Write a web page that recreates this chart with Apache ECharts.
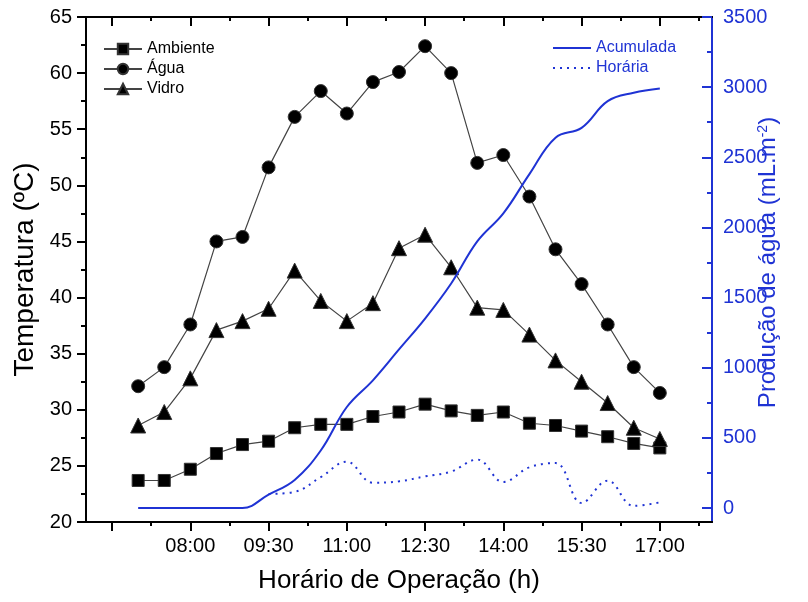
<!DOCTYPE html>
<html>
<head>
<meta charset="utf-8">
<script src="https://cdn.jsdelivr.net/npm/echarts@6/dist/echarts.min.js"></script>
<style>html,body{margin:0;padding:0;background:#fff}#c{width:808px;height:602px}</style>
</head>
<body>
<div id="c"></div>
<script>
// x axis categories (15-min steps across the axis range)
const axisCats = ['06:00','06:15','06:30','06:45','07:00','07:15','07:30','07:45','08:00','08:15','08:30','08:45',
  '09:00','09:15','09:30','09:45','10:00','10:15','10:30','10:45','11:00','11:15','11:30','11:45',
  '12:00','12:15','12:30','12:45','13:00','13:15','13:30','13:45','14:00','14:15','14:30','14:45',
  '15:00','15:15','15:30','15:45','16:00','16:15','16:30','16:45','17:00','17:15','17:30','17:45','18:00'];
const majorTicks = ['06:30','08:00','09:30','11:00','12:30','14:00','15:30','17:00'];
const minorTicks = ['07:15','08:45','10:15','11:45','13:15','14:45','16:15','17:45'];
const tickLabels = ['08:00','09:30','11:00','12:30','14:00','15:30','17:00'];

// measurement times
const times = ['07:00','07:30','08:00','08:30','09:00','09:30','10:00','10:30','11:00','11:30','12:00',
  '12:30','13:00','13:30','14:00','14:30','15:00','15:30','16:00','16:30','17:00'];
const ambiente = [23.7,23.7,24.7,26.1,26.9,27.2,28.4,28.7,28.7,29.4,29.8,30.5,29.9,29.5,29.8,28.8,28.6,28.1,27.6,27.0,26.6];
const agua     = [32.1,33.8,37.6,45.0,45.4,51.6,56.1,58.4,56.4,59.2,60.1,62.4,60.0,52.0,52.7,49.0,44.3,41.2,37.6,33.8,31.5];
const vidro    = [28.6,29.8,32.8,37.1,37.9,39.0,42.4,39.7,37.9,39.5,44.4,45.6,42.7,39.1,38.9,36.7,34.4,32.5,30.6,28.4,27.4];
const acumulada = [0,0,0,0,0,95,200,410,720,910,1130,1350,1600,1900,2100,2380,2640,2710,2900,2960,2990];
const horaria   = ['-','-','-','-','-',100,115,220,330,180,190,225,260,345,185,290,320,35,195,15,40];

const FONT = "'Liberation Sans', Arial, sans-serif";
const BLUE = '#1f33d4';
const pairs = arr => times.map((t, i) => [t, arr[i]]);

const chart = echarts.init(document.getElementById('c'), null, {renderer: 'canvas'});
const tickAxis = (pos, list, len, inside, withLabels) => ({
  type: 'category', gridIndex: 0, position: pos, data: axisCats, boundaryGap: false,
  axisLine: {show: true, onZero: false, lineStyle: {color: '#000', width: 2}},
  axisTick: {show: true, inside: inside, length: len, lineStyle: {color: '#000', width: 2},
    interval: (i, v) => list.indexOf(axisCats[i]) >= 0},
  axisLabel: withLabels ? {show: true, fontFamily: FONT, fontSize: 20, color: '#000', margin: 14,
    interval: (i, v) => tickLabels.indexOf(axisCats[i]) >= 0} : {show: false},
  splitLine: {show: false}
});

const xMain = tickAxis('bottom', majorTicks, 9, false, true);
xMain.name = 'Horário de Operação (h)';
xMain.nameLocation = 'middle';
xMain.nameGap = 46;
xMain.nameTextStyle = {fontFamily: FONT, fontSize: 26, color: '#000'};

const blueTickAxis = (interval, len, labels) => ({
  type: 'value', gridIndex: 1, position: 'right', offset: 0, min: 0, max: 3500, interval: interval,
  axisLine: {show: false, onZero: false},
  axisTick: {show: true, inside: true, length: len, lineStyle: {color: BLUE, width: 2}},
  minorTick: {show: false},
  axisLabel: labels ? {fontFamily: FONT, fontSize: 20, color: BLUE, margin: 11, formatter: v => String(v)} : {show: false},
  splitLine: {show: false}
});

const option = {
  backgroundColor: '#fff',
  animation: false,
  textStyle: {fontFamily: FONT},
  grid: [
    {left: 86, right: 96, top: 17, bottom: 80},
    {left: 86, right: 96, top: 17, bottom: 94}
  ],
  legend: [
    {data: ['Ambiente', 'Água', 'Vidro'], orient: 'vertical', left: 98, top: 36, itemWidth: 38, itemHeight: 13,
      itemGap: 4, textStyle: {fontFamily: FONT, fontSize: 16, color: '#000'}},
    {data: [{name: 'Acumulada', itemStyle: {opacity: 0}}, {name: 'Horária', itemStyle: {opacity: 0}}],
      orient: 'vertical', left: 547, top: 35, itemWidth: 38, itemHeight: 13,
      itemGap: 4, textStyle: {fontFamily: FONT, fontSize: 16, color: BLUE}}
  ],
  xAxis: [
    xMain,
    tickAxis('bottom', minorTicks, 4, false, false),
    tickAxis('top', majorTicks, 9, true, false),
    tickAxis('top', minorTicks, 4, true, false),
    {type: 'value', gridIndex: 1, show: false, min: -1, max: 0,
      axisLine: {onZero: false}}
  ],
  yAxis: [
    {type: 'value', gridIndex: 0, position: 'left', min: 20, max: 65, interval: 5,
      name: 'Temperatura (ºC)', nameLocation: 'middle', nameRotate: 90, nameGap: 39,
      nameTextStyle: {fontFamily: FONT, fontSize: 28, color: '#000'},
      axisLine: {show: true, onZero: false, lineStyle: {color: '#000', width: 2}},
      axisTick: {show: true, length: 9, lineStyle: {color: '#000', width: 2}},
      minorTick: {show: true, splitNumber: 2, length: 5, lineStyle: {color: '#000', width: 2}},
      axisLabel: {fontFamily: FONT, fontSize: 20, color: '#000', margin: 14},
      splitLine: {show: false}},
    {type: 'value', gridIndex: 0, position: 'right', min: -100, max: 3500,
      name: 'Produção de água (mL.m{sup|-2})', nameLocation: 'middle', nameRotate: 90, nameGap: 44,
      nameTextStyle: {fontFamily: FONT, fontSize: 24, color: BLUE, padding: [0, 0, 0, 14],
        rich: {sup: {fontFamily: FONT, fontSize: 14, color: BLUE, verticalAlign: 'top', padding: [0, 0, 10, 0]}}},
      axisLine: {show: true, onZero: false, lineStyle: {color: BLUE, width: 2}},
      axisTick: {show: false}, axisLabel: {show: false}, splitLine: {show: false}},
    blueTickAxis(500, 10, true),
    blueTickAxis(250, 5, false)
  ],
  series: [
    {name: 'Ambiente', type: 'line', xAxisIndex: 0, yAxisIndex: 0, data: pairs(ambiente),
      showAllSymbol: true, symbol: 'rect', symbolSize: 12, itemStyle: {color: '#000', borderColor: '#333', borderWidth: 1},
      lineStyle: {color: '#444', width: 1.2}, z: 3},
    {name: 'Água', type: 'line', xAxisIndex: 0, yAxisIndex: 0, data: pairs(agua),
      showAllSymbol: true, symbol: 'circle', symbolSize: 13, itemStyle: {color: '#000', borderColor: '#333', borderWidth: 1},
      lineStyle: {color: '#444', width: 1.2}, z: 3},
    {name: 'Vidro', type: 'line', xAxisIndex: 0, yAxisIndex: 0, data: pairs(vidro),
      showAllSymbol: true, symbol: 'triangle', symbolSize: 15, itemStyle: {color: '#000', borderColor: '#333', borderWidth: 1},
      lineStyle: {color: '#444', width: 1.2}, z: 3},
    {name: 'Acumulada', type: 'line', xAxisIndex: 0, yAxisIndex: 1, data: pairs(acumulada),
      smooth: 0.4, showSymbol: false, symbol: 'none', itemStyle: {color: BLUE},
      lineStyle: {color: BLUE, width: 2}, z: 4},
    {name: 'Horária', type: 'line', xAxisIndex: 0, yAxisIndex: 1, data: pairs(horaria),
      smooth: 0.4, showSymbol: false, symbol: 'none', itemStyle: {color: BLUE},
      lineStyle: {color: BLUE, width: 2, type: [2, 5]}, z: 4}
  ]
};
chart.setOption(option);
</script>
</body>
</html>
